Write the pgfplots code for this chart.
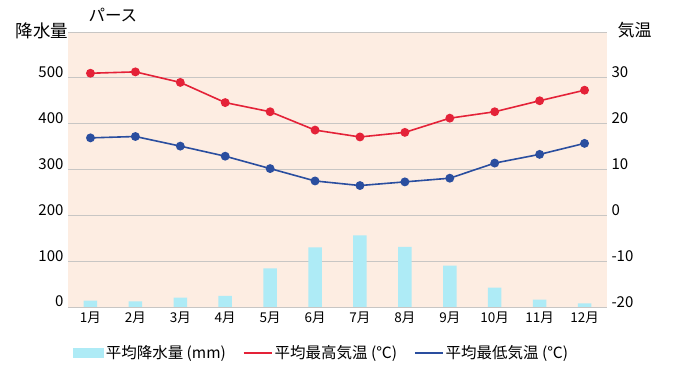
\documentclass[border=0pt]{standalone}
\usepackage{fontspec}
\setmainfont{Noto Sans CJK JP}
\usepackage{pgfplots}
\pgfplotsset{compat=1.18}
\definecolor{bgc}{HTML}{FDEDE2}
\definecolor{barc}{HTML}{AEEBF6}
\definecolor{redc}{HTML}{E42238}
\definecolor{bluec}{HTML}{2A4E9F}
\definecolor{gridc}{HTML}{C8C6C4}
\pgfplotsset{
  linelegend/.style={legend image code/.code={\draw[mark repeat=2,mark phase=2,##1] (0pt,0pt) -- (14pt,0pt) -- (28pt,0pt);}},
  barlegend/.style={legend image code/.code={\fill[barc] (0pt,-4.5pt) rectangle (30pt,4.5pt);}},
}
\begin{document}
\begin{tikzpicture}
\path[use as bounding box] (0pt,0pt) rectangle (680pt,383pt);
\begin{axis}[
  at={(68pt,76pt)}, anchor=south west,
  scale only axis, width=539pt, height=275pt,
  xmin=0.5, xmax=12.5, ymin=0, ymax=600,
  axis background/.style={fill=bgc},
  axis x line*=bottom, axis y line*=left,
  x axis line style={draw=gridc, line width=0.8pt},
  y axis line style={draw=none},
  xtick={1,...,12},
  xticklabels={1月,2月,3月,4月,5月,6月,7月,8月,9月,10月,11月,12月},
  xticklabel style={font=\fontsize{13.5}{15}\selectfont, yshift=-1pt},
  major tick length=0pt,
  ytick={0,100,...,600},
  yticklabels={0,100,200,300,400,500,{}},
  ymajorgrids, grid style={draw=gridc, line width=0.8pt},
  yticklabel style={anchor=base east, font=\fontsize{15}{17}\selectfont, xshift=-1pt},
]
\addplot[ybar, bar width=13.5pt, fill=barc, draw=none] coordinates {
(1,13.8) (2,12.3) (3,20.4) (4,24) (5,84) (6,130) (7,156) (8,131) (9,90) (10,42) (11,16) (12,8)};
\end{axis}
\begin{axis}[
  at={(68pt,76pt)}, anchor=south west,
  scale only axis, width=539pt, height=275pt,
  xmin=0.5, xmax=12.5, ymin=-20, ymax=40,
  axis x line=none, axis y line*=right,
  y axis line style={draw=none},
  major tick length=0pt,
  ytick={-20,-10,...,30},
  yticklabels={-20,-10,0,10,20,30},
  yticklabel style={anchor=base west, font=\fontsize{15}{17}\selectfont, xshift=1pt},
  legend style={at={(0.004,-0.167)}, anchor=west, draw=none, fill=none,
    font=\fontsize{15.5}{17}\selectfont, legend columns=3,
    /tikz/every even column/.append style={column sep=15pt}},
]
\addlegendimage{barlegend}
\addlegendentry{平均降水量\kern3.5pt(mm)}
\addplot[redc, line width=1.6pt, mark=*, mark size=3.6pt, linelegend] coordinates {
(1,31.0) (2,31.3) (3,29.0) (4,24.6) (5,22.6) (6,18.6) (7,17.1) (8,18.1) (9,21.2) (10,22.6) (11,25.0) (12,27.3)};
\addlegendentry{平均最高気温\kern3.5pt(℃)}
\addplot[bluec, line width=1.6pt, mark=*, mark size=3.6pt, linelegend] coordinates {
(1,16.9) (2,17.2) (3,15.1) (4,12.9) (5,10.2) (6,7.5) (7,6.5) (8,7.3) (9,8.1) (10,11.4) (11,13.3) (12,15.7)};
\addlegendentry{平均最低気温\kern3.5pt(℃)}
\end{axis}
\node[anchor=west, font=\fontsize{16.5}{18}\selectfont] at (85pt,368pt) {パース};
\node[anchor=west, font=\fontsize{17.5}{19}\selectfont] at (12pt,352pt) {降水量};
\node[anchor=west, font=\fontsize{17}{19}\selectfont] at (614pt,353pt) {気温};
\end{tikzpicture}
\end{document}
